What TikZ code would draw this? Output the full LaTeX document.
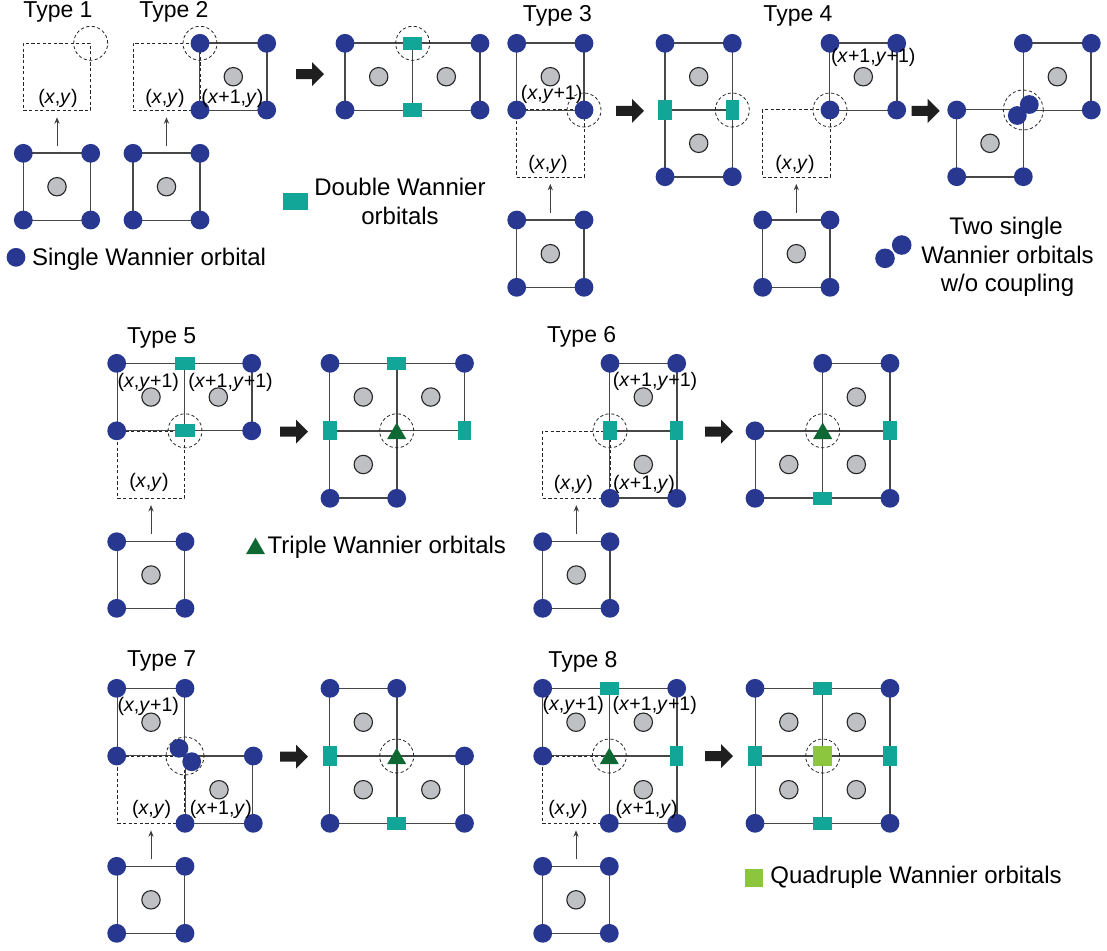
\documentclass[tikz,border=0pt]{standalone}
\usepackage{fontspec}
\setmainfont{Liberation Sans}
\usetikzlibrary{arrows.meta,shapes.geometric}
\definecolor{wblue}{RGB}{40,56,145}
\definecolor{wteal}{RGB}{18,166,153}
\definecolor{wgreen}{RGB}{14,104,52}
\definecolor{wlime}{RGB}{140,198,63}
\definecolor{cgray}{RGB}{190,192,196}
\tikzset{
  cellbox/.style={rectangle, draw=black!72, line width=0.65pt, inner sep=0, minimum width=33.6pt, minimum height=33.6pt},
  ghost/.style={rectangle, draw=black!85, line width=0.4pt, dash pattern=on 1.6pt off 1.2pt, inner sep=0, minimum width=33.6pt, minimum height=33.6pt},
  wdot/.style={circle, fill=wblue, inner sep=0, minimum size=9.4pt},
  core/.style={circle, fill=cgray, draw=black!85, line width=0.55pt, inner sep=0, minimum size=9.2pt},
  dblh/.style={rectangle, fill=wteal, inner sep=0, minimum width=9.6pt, minimum height=6.6pt},
  dblv/.style={rectangle, fill=wteal, inner sep=0, minimum width=6.6pt, minimum height=9.6pt},
  trip/.style={regular polygon, regular polygon sides=3, fill=wgreen, inner sep=0, minimum size=11pt, yshift=-1.35pt},
  quad/.style={rectangle, fill=wlime, inner sep=0, minimum size=9.6pt},
  ring/.style={circle, draw=black!85, line width=0.4pt, dash pattern=on 1.6pt off 1.2pt, inner sep=0, minimum size=17pt},
  ttl/.style={font=\fontsize{11.5}{13}\selectfont, anchor=base, inner sep=0},
  lbl/.style={font=\fontsize{9.8}{11}\selectfont, anchor=base, inner sep=0},
  leg/.style={font=\fontsize{12}{14}\selectfont, anchor=base west, inner sep=0},
  legc/.style={font=\fontsize{12}{14}\selectfont, anchor=base, inner sep=0},
  uparrow/.style={draw=black!75, line width=0.45pt, -{Stealth[length=3.2pt,width=2.6pt]}},
  bigarr/.style={fill=black!88},
}
\newcommand\bigarrow[2]{\fill[bigarr] (#1,#2) ++(0,-5) -- ++(16,0) -- ++(0,-7) -- ++(12,12) -- ++(-12,12) -- ++(0,-7) -- ++(-16,0) -- cycle;}
\begin{document}
\begin{tikzpicture}[x=0.5pt,y=-0.5pt]
\useasboundingbox (0,0) rectangle (1107,950);

% ================= Titles =================
\node[ttl] (ty1) at (58,17.3) {Type 1};
\node[ttl] (ty2) at (174,17.3) {Type 2};
\node[ttl] (ty3) at (557.5,21.7) {Type 3};
\node[ttl] (ty4) at (798,21.7) {Type 4};
\node[ttl] (ty5) at (161.7,343) {Type 5};
\node[ttl] (ty6) at (581.7,342.7) {Type 6};
\node[ttl] (ty7) at (161.7,666.7) {Type 7};
\node[ttl] (ty8) at (583,667) {Type 8};

% ================= ghosts (dashed cells) =================
\node[ghost] (g1) at (57,76.7) {};
\node[ghost] (g2) at (166.5,76.7) {};
\node[ghost] (g3) at (550.3,143.3) {};
\node[ghost] (g4) at (796.3,143.3) {};
\node[ghost] (g5) at (151,464.5) {};
\node[ghost] (g6) at (576.3,464.5) {};
\node[ghost] (g7) at (151,789.7) {};
\node[ghost] (g8) at (576,789.7) {};

% ================= solid cells =================
% lower (source) cells
\node[cellbox] (l1) at (57,186.7) {};
\node[cellbox] (l2) at (166.5,186.7) {};
\node[cellbox] (l3) at (550.3,253.7) {};
\node[cellbox] (l4) at (796.3,253.7) {};
\node[cellbox] (l5) at (151,575) {};
\node[cellbox] (l6) at (576.3,575) {};
\node[cellbox] (l7) at (151,899.8) {};
\node[cellbox] (l8) at (576,899.8) {};
% type panels
\node[cellbox] (c2a) at (233.3,76.7) {};
\node[cellbox] (r2a) at (378.7,76.7) {};
\node[cellbox] (r2b) at (446.3,76.7) {};
\node[cellbox] (c3a) at (550.3,76.7) {};
\node[cellbox] (r3a) at (698.7,76.7) {};
\node[cellbox] (r3b) at (698.7,143.3) {};
\node[cellbox] (c4a) at (863.3,76.7) {};
\node[cellbox] (r4a) at (1057.3,76.7) {};
\node[cellbox] (r4b) at (990,143.3) {};
\node[cellbox] (c5a) at (151,397) {};
\node[cellbox] (c5b) at (218.3,397) {};
\node[cellbox] (r5a) at (363.3,397) {};
\node[cellbox] (r5b) at (430.8,397) {};
\node[cellbox] (r5c) at (363.3,464.5) {};
\node[cellbox] (c6a) at (643.3,397) {};
\node[cellbox] (c6b) at (643.3,464.5) {};
\node[cellbox] (r6a) at (856.3,397) {};
\node[cellbox] (r6b) at (788.8,464.5) {};
\node[cellbox] (r6c) at (856.3,464.5) {};
\node[cellbox] (c7a) at (151,722.2) {};
\node[cellbox] (c7b) at (219,789.7) {};
\node[cellbox] (r7a) at (363.3,722.2) {};
\node[cellbox] (r7b) at (363.3,789.7) {};
\node[cellbox] (r7c) at (430.8,789.7) {};
\node[cellbox] (c8a) at (576,722.2) {};
\node[cellbox] (c8b) at (643.3,722.2) {};
\node[cellbox] (c8c) at (643.3,789.7) {};
\node[cellbox] (r8a) at (788.8,722.2) {};
\node[cellbox] (r8b) at (856.3,722.2) {};
\node[cellbox] (r8c) at (788.8,789.7) {};
\node[cellbox] (r8d) at (856.3,789.7) {};

% ================= gray cores =================
\foreach \n in {l1,l2,l3,l4,l5,l6,l7,l8,c2a,r2a,r2b,c3a,r3a,r3b,c4a,r4a,r4b,c5a,c5b,r5a,r5b,r5c,c6a,c6b,r6a,r6b,r6c,c7a,c7b,r7a,r7b,r7c,c8a,c8b,c8c,r8a,r8b,r8c,r8d}
  \node[core] (k\n) at (\n.center) {};

% ================= dashed rings =================
\node[ring] (o1) at (90.7,43.3) {};
\node[ring] (o2) at (200,43.3) {};
\node[ring] (o2r) at (412.7,43.3) {};
\node[ring] (o3) at (584,110) {};
\node[ring] (o3r) at (732.3,110) {};
\node[ring] (o4) at (830,110) {};
\node[ring, minimum size=20pt] (o4r) at (1023.3,110) {};
\node[ring] (o5) at (185,430.8) {};
\node[ring] (o5r) at (396.7,430.8) {};
\node[ring] (o6) at (610,430.8) {};
\node[ring] (o6r) at (822.7,430.8) {};
\node[ring, minimum size=19pt] (o7) at (185,756) {};
\node[ring] (o7r) at (396.7,756) {};
\node[ring] (o8) at (609.3,756) {};
\node[ring] (o8r) at (822.7,756) {};

% ================= small arrows =================
\foreach \i in {1,...,8}
  \draw[uparrow] ([yshift=3.3pt]l\i.north) -- ([yshift=-3.3pt]g\i.south);

% ================= big arrows =================
\bigarrow{296}{74}
\bigarrow{616}{110.8}
\bigarrow{911.7}{110.8}
\bigarrow{280}{431.7}
\bigarrow{705}{431.7}
\bigarrow{280}{756.5}
\bigarrow{705}{756}

% ================= orbitals =================
% lower cells
\path (23.3,153.3) node[wdot](d1a){} (90.7,153.3) node[wdot](d1b){} (23.3,220) node[wdot](d1c){} (90.7,220) node[wdot](d1d){}
      (133,153.3) node[wdot](d2a){} (200,153.3) node[wdot](d2b){} (133,220) node[wdot](d2c){} (200,220) node[wdot](d2d){}
      (516.7,220) node[wdot](d3a){} (584,220) node[wdot](d3b){} (516.7,287.3) node[wdot](d3c){} (584,287.3) node[wdot](d3d){}
      (762.7,220) node[wdot](d4a){} (830,220) node[wdot](d4b){} (762.7,287.3) node[wdot](d4c){} (830,287.3) node[wdot](d4d){}
      (116.7,541.7) node[wdot](d5a){} (185,541.7) node[wdot](d5b){} (116.7,608.3) node[wdot](d5c){} (185,608.3) node[wdot](d5d){}
      (542.7,541.7) node[wdot](d6a){} (610,541.7) node[wdot](d6b){} (542.7,608.3) node[wdot](d6c){} (610,608.3) node[wdot](d6d){}
      (116.7,866.3) node[wdot](d7a){} (185,866.3) node[wdot](d7b){} (116.7,933.3) node[wdot](d7c){} (185,933.3) node[wdot](d7d){}
      (542.7,866.3) node[wdot](d8a){} (609.3,866.3) node[wdot](d8b){} (542.7,933.3) node[wdot](d8c){} (609.3,933.3) node[wdot](d8d){};
% type 2
\path (200,43.3) node[wdot](e2a){} (266.7,43.3) node[wdot](e2b){} (200,110) node[wdot](e2c){} (266.7,110) node[wdot](e2d){};
\path (345,43.3) node[wdot](f2a){} (480,43.3) node[wdot](f2b){} (345,110) node[wdot](f2c){} (480,110) node[wdot](f2d){}
      (412.7,43.3) node[dblh](f2e){} (412.7,110) node[dblh](f2f){};
% type 3
\path (516.7,43.3) node[wdot](e3a){} (584,43.3) node[wdot](e3b){} (516.7,110) node[wdot](e3c){} (584,110) node[wdot](e3d){};
\path (665,43.3) node[wdot](f3a){} (732.3,43.3) node[wdot](f3b){} (665,176.7) node[wdot](f3c){} (732.3,176.7) node[wdot](f3d){}
      (665,110) node[dblv](f3e){} (732.3,110) node[dblv](f3f){};
% type 4
\path (830,43.3) node[wdot](e4a){} (896.7,43.3) node[wdot](e4b){} (830,110) node[wdot](e4c){} (896.7,110) node[wdot](e4d){};
\path (1023.3,43.3) node[wdot](f4a){} (1091.3,43.3) node[wdot](f4b){} (1091.3,110) node[wdot](f4c){}
      (956.7,110) node[wdot](f4d){} (956.7,176.7) node[wdot](f4e){} (1023.3,176.7) node[wdot](f4f){}
      (1017.3,115.5) node[wdot](f4g){} (1029.3,104.5) node[wdot](f4h){};
% type 5
\path (116.7,363.3) node[wdot](e5a){} (251.7,363.3) node[wdot](e5b){} (116.7,430.8) node[wdot](e5c){} (251.7,430.8) node[wdot](e5d){}
      (185,363.3) node[dblh](e5e){} (185,430.8) node[dblh](e5f){};
\path (330,363.3) node[wdot](f5a){} (464.5,363.3) node[wdot](f5b){} (330,498.3) node[wdot](f5c){} (396.7,498.3) node[wdot](f5d){}
      (396.7,363.3) node[dblh](f5e){} (330,430.8) node[dblv](f5f){} (464.5,430.8) node[dblv](f5g){}
      (396.7,430.8) node[trip](f5h){};
% type 6
\path (610,363.3) node[wdot](e6a){} (676.7,363.3) node[wdot](e6b){} (610,498.3) node[wdot](e6c){} (676.7,498.3) node[wdot](e6d){}
      (610,430.8) node[dblv](e6e){} (676.7,430.8) node[dblv](e6f){};
\path (822.7,363.3) node[wdot](f6a){} (890,363.3) node[wdot](f6b){} (755,430.8) node[wdot](f6c){} (755,498.3) node[wdot](f6d){} (890,498.3) node[wdot](f6e){}
      (890,430.8) node[dblv](f6f){} (822.7,498.3) node[dblh](f6g){} (822.7,430.8) node[trip](f6h){};
% type 7
\path (116.7,688.3) node[wdot](e7a){} (185,688.3) node[wdot](e7b){} (116.7,756) node[wdot](e7c){} (253.3,756) node[wdot](e7d){}
      (185,823.3) node[wdot](e7e){} (253.3,823.3) node[wdot](e7f){} (179,748.3) node[wdot](e7g){} (191.7,761.7) node[wdot](e7h){};
\path (330,688.3) node[wdot](f7a){} (396.7,688.3) node[wdot](f7b){} (464.5,756) node[wdot](f7c){} (330,823.3) node[wdot](f7d){} (464.5,823.3) node[wdot](f7e){}
      (330,756) node[dblv](f7f){} (396.7,823.3) node[dblh](f7g){} (396.7,756) node[trip](f7h){};
% type 8
\path (542.7,688.3) node[wdot](e8a){} (676.7,688.3) node[wdot](e8b){} (542.7,756) node[wdot](e8c){} (609.3,823.3) node[wdot](e8d){} (676.7,823.3) node[wdot](e8e){}
      (609.3,688.3) node[dblh](e8f){} (676.7,756) node[dblv](e8g){} (609.3,756) node[trip](e8h){};
\path (755,688.3) node[wdot](f8a){} (890,688.3) node[wdot](f8b){} (755,823.3) node[wdot](f8c){} (890,823.3) node[wdot](f8d){}
      (822.7,688.3) node[dblh](f8e){} (822.7,823.3) node[dblh](f8f){} (755,756) node[dblv](f8g){} (890,756) node[dblv](f8h){}
      (822.7,756) node[quad](f8i){};

% ================= coordinate labels =================
\node[lbl] (a1) at (58,103.3) {(\textit{x},\textit{y})};
\node[lbl] (a2) at (165,103.3) {(\textit{x},\textit{y})};
\node[lbl] (a2b) at (232.5,103.3) {(\textit{x}+1,\textit{y})};
\node[lbl] (a3) at (551.7,99.3) {(\textit{x},\textit{y}+1)};
\node[lbl] (a3b) at (548,169.3) {(\textit{x},\textit{y})};
\node[lbl] (a4) at (873.3,62) {(\textit{x}+1,\textit{y}+1)};
\node[lbl] (a4b) at (795,169.3) {(\textit{x},\textit{y})};
\node[lbl] (a5) at (148.3,387.7) {(\textit{x},\textit{y}+1)};
\node[lbl] (a5b) at (230.5,387.7) {(\textit{x}+1,\textit{y}+1)};
\node[lbl] (a5c) at (149,487.7) {(\textit{x},\textit{y})};
\node[lbl] (a6) at (655,386) {(\textit{x}+1,\textit{y}+1)};
\node[lbl] (a6b) at (573.3,489.3) {(\textit{x},\textit{y})};
\node[lbl] (a6c) at (644,489.3) {(\textit{x}+1,\textit{y})};
\node[lbl] (a7) at (148.3,711) {(\textit{x},\textit{y}+1)};
\node[lbl] (a7b) at (151.7,814.3) {(\textit{x},\textit{y})};
\node[lbl] (a7c) at (220.8,814.3) {(\textit{x}+1,\textit{y})};
\node[lbl] (a8) at (573.3,710) {(\textit{x},\textit{y}+1)};
\node[lbl] (a8b) at (654.7,710) {(\textit{x}+1,\textit{y}+1)};
\node[lbl] (a8c) at (568,814.3) {(\textit{x},\textit{y})};
\node[lbl] (a8d) at (646.7,814.3) {(\textit{x}+1,\textit{y})};

% ================= legends =================
\node[wdot] (ls) at (16,257.3) {};
\node[leg] (lst) at (31.7,265) {Single Wannier orbital};
\node[rectangle, fill=wteal, inner sep=0, minimum width=12.5pt, minimum height=8.6pt] (ld) at (295.8,201.3) {};
\node[legc] (ldt1) at (400,195.5) {Double Wannier};
\node[legc] (ldt2) at (400,224) {orbitals};
\node[wdot, minimum size=9.8pt] (lw1) at (901.7,245) {};
\node[wdot, minimum size=9.8pt] (lw2) at (885,258.3) {};
\node[legc] (lwt1) at (1006,234.5) {Two single};
\node[legc] (lwt2) at (1007.5,263) {Wannier orbitals};
\node[legc] (lwt3) at (1007.5,291.5) {w/o coupling};
\node[trip] (lt) at (255.5,546) {};
\node[leg] (ltt) at (267.3,553.3) {Triple Wannier orbitals};
\node[quad, minimum size=9pt] (lq) at (754,878) {};
\node[leg] (lqt) at (770,883.3) {Quadruple Wannier orbitals};
\end{tikzpicture}
\end{document}
